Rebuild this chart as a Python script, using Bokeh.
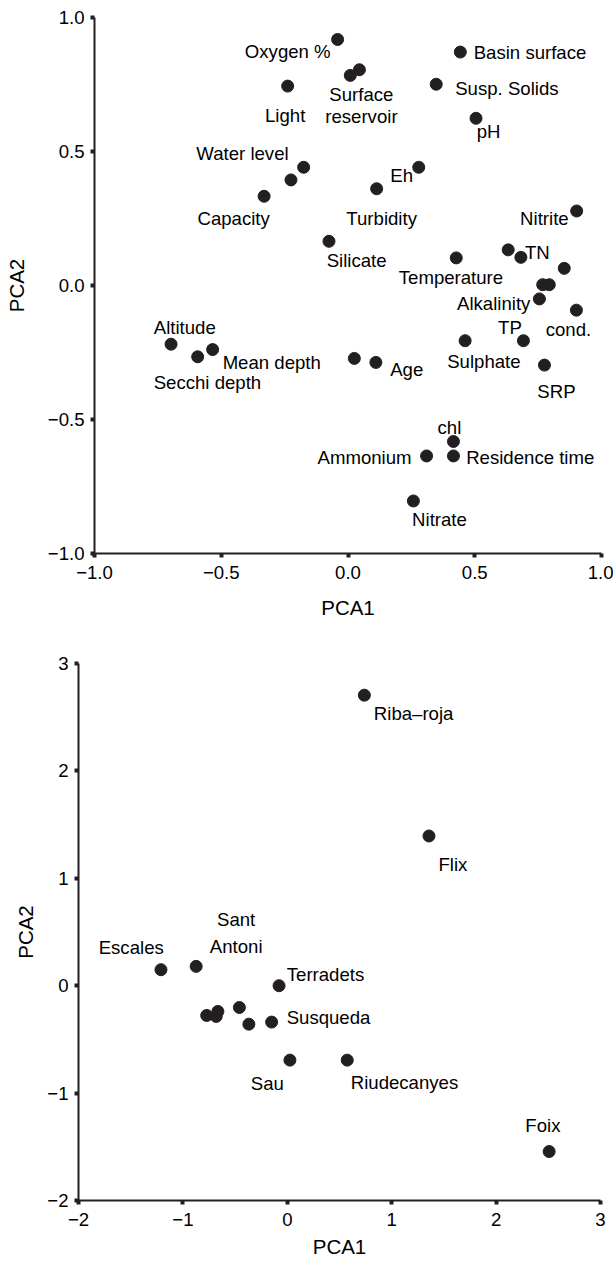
from bokeh.plotting import figure
from bokeh.models import FixedTicker, ColumnDataSource, Range1d
from bokeh.core.properties import value
from bokeh.embed import file_html
from bokeh.resources import INLINE

# ---------------- data: variables (top panel) ----------------
var_names = ["Oxygen %", "", "Surface reservoir", "Light", "Water level", "", "Capacity",
             "Silicate", "Turbidity", "Basin surface", "Susp. Solids", "pH", "Eh", "Nitrite",
             "", "TN", "Temperature", "", "", "", "Alkalinity", "cond.", "TP", "Sulphate",
             "SRP", "", "Age", "Altitude", "Secchi depth", "Mean depth", "chl",
             "Residence time", "Ammonium", "Nitrate"]
var_pca1 = [-0.041, 0.009, 0.045, -0.238, -0.175, -0.225, -0.331,
            -0.075, 0.113, 0.443, 0.348, 0.505, 0.279, 0.902,
            0.632, 0.682, 0.427, 0.853, 0.768, 0.794, 0.755, 0.901, 0.692, 0.462,
            0.775, 0.025, 0.110, -0.698, -0.593, -0.534, 0.416,
            0.416, 0.310, 0.258]
var_pca2 = [0.918, 0.784, 0.805, 0.744, 0.441, 0.394, 0.333,
            0.165, 0.361, 0.871, 0.751, 0.624, 0.441, 0.278,
            0.133, 0.105, 0.103, 0.064, 0.003, 0.003, -0.050, -0.092, -0.206, -0.206,
            -0.297, -0.272, -0.287, -0.219, -0.266, -0.239, -0.582,
            -0.636, -0.636, -0.804]
top_ticks = [-1.0, -0.5, 0.0, 0.5, 1.0]

# ---------------- data: reservoirs (bottom panel) ----------------
lake_names = ["Escales", "Sant Antoni", "Terradets", "", "", "", "", "", "Susqueda",
              "Sau", "Riudecanyes", "Foix", "Riba\u2013roja", "Flix"]
lake_pca1 = [-1.21, -0.873, -0.079, -0.772, -0.665, -0.681, -0.459, -0.368, -0.150,
             0.025, 0.574, 2.508, 0.738, 1.357]
lake_pca2 = [0.149, 0.180, 0.000, -0.277, -0.240, -0.286, -0.203, -0.358, -0.339,
             -0.693, -0.693, -1.544, 2.705, 1.394]
bottom_ticks = [-2, -1, 0, 1, 2, 3]

# ---------------- label layout (screen-pixel offsets from the point) ----------------
top_label_layout = [
    ("Oxygen %", "Oxygen %", -7, 12, "right"),
    ("Surface", "Surface reservoir", 2, 25, "center"),
    ("reservoir", "Surface reservoir", 2, 47, "center"),
    ("Light", "Light", -2.5, 29, "center"),
    ("Water level", "Water level", -15, -13.4, "right"),
    ("Capacity", "Capacity", 5.7, 21.8, "right"),
    ("Turbidity", "Turbidity", 5, 30, "center"),
    ("Silicate", "Silicate", -2.3, 19.6, "left"),
    ("Basin surface", "Basin surface", 13.4, 0.8, "left"),
    ("Susp. Solids", "Susp. Solids", 19, 4.6, "left"),
    ("pH", "pH", 0.7, 13.6, "left"),
    ("Eh", "Eh", -5.7, 8.3, "right"),
    ("Nitrite", "Nitrite", -8, 8, "right"),
    ("TN", "TN", 4, -5, "left"),
    ("Temperature", "Temperature", -5.3, 20, "center"),
    ("Alkalinity", "Alkalinity", -9, 5, "right"),
    ("TP", "TP", -1.6, -13.7, "right"),
    ("cond.", "cond.", -8, 19.7, "center"),
    ("Sulphate", "Sulphate", 18.8, 20.7, "center"),
    ("SRP", "SRP", 12, 26, "center"),
    ("Age", "Age", 14.3, 6.6, "left"),
    ("Altitude", "Altitude", -17.3, -17, "left"),
    ("Mean depth", "Mean depth", 10, 13, "left"),
    ("Secchi depth", "Secchi depth", -44, 26.2, "left"),
    ("chl", "chl", -4, -14.4, "center"),
    ("Ammonium", "Ammonium", -15, 1.3, "right"),
    ("Residence time", "Residence time", 12.7, 1.3, "left"),
    ("Nitrate", "Nitrate", -1.3, 19, "left"),
]
bottom_label_layout = [
    ("Escales", "Escales", 2.8, -22.6, "right"),
    ("Sant", "Sant Antoni", 40, -46.7, "center"),
    ("Antoni", "Sant Antoni", 40, -19.6, "center"),
    ("Terradets", "Terradets", 7.7, -11, "left"),
    ("Susqueda", "Susqueda", 15, -4.5, "left"),
    ("Sau", "Sau", -6, 23.8, "right"),
    ("Riudecanyes", "Riudecanyes", 3.5, 22.6, "left"),
    ("Foix", "Foix", -6.2, -26.3, "center"),
    ("Riba\u2013roja", "Riba\u2013roja", 9.5, 18.2, "left"),
    ("Flix", "Flix", 9.5, 28.3, "left"),
]

INK = "#231f20"
FONT = "Liberation Sans"
LABEL_SIZE = "18.6px"


def fmt(t, dec):
    s = f"{abs(t):.{dec}f}"
    return ("\u2212" + s) if t < 0 else s


def style_axes(p, ticks, dec, xlab_standoff, ylab_standoff):
    for ax in (p.xaxis[0], p.yaxis[0]):
        ax.ticker = FixedTicker(ticks=ticks)
        ax.major_label_overrides = {t: fmt(t, dec) for t in ticks}
        ax.axis_line_color = INK
        ax.axis_line_width = 2
        ax.major_tick_line_color = INK
        ax.major_tick_line_width = 4
        ax.major_tick_out = 4
        ax.major_tick_in = 0
        ax.minor_tick_out = 0
        ax.minor_tick_in = 0
        ax.major_label_text_font = FONT
        ax.major_label_text_font_size = LABEL_SIZE
        ax.major_label_text_color = "black"
        ax.major_label_standoff = 6
        ax.axis_label_text_font = FONT
        ax.axis_label_text_font_size = "20.5px"
        ax.axis_label_text_font_style = "normal"
        ax.axis_label_text_color = "black"
    p.xaxis.major_label_standoff = 8
    p.xaxis.axis_label_standoff = xlab_standoff
    p.yaxis.axis_label_standoff = ylab_standoff
    p.xgrid.visible = False
    p.ygrid.visible = False
    p.outline_line_color = None


def add_labels(p, names, xs, ys, layout):
    idx = {n: i for i, n in enumerate(names) if n}
    for align in ("left", "center", "right"):
        rows = [r for r in layout if r[4] == align]
        if not rows:
            continue
        src = ColumnDataSource(dict(
            x=[xs[idx[r[1]]] for r in rows],
            y=[ys[idx[r[1]]] for r in rows],
            t=[r[0] for r in rows],
            dx=[r[2] for r in rows],
            dy=[r[3] for r in rows],
        ))
        p.text(x="x", y="y", text="t", x_offset="dx", y_offset="dy", source=src,
               text_align=align, text_baseline="middle", text_color="black",
               text_font=value(FONT), text_font_size=LABEL_SIZE)


# ---------------- top panel ----------------
p1 = figure(frame_width=507, frame_height=536, x_range=Range1d(-1, 1), y_range=Range1d(-1, 1),
            output_backend="svg", toolbar_location=None,
            min_border_left=94, min_border_right=12, min_border_top=17, min_border_bottom=77,
            x_axis_label="PCA1", y_axis_label="PCA2")
style_axes(p1, top_ticks, 1, 14, 17)
p1.scatter(var_pca1, var_pca2, size=12, color=INK)
add_labels(p1, var_names, var_pca1, var_pca2, top_label_layout)

# ---------------- bottom panel ----------------
p2 = figure(frame_width=522, frame_height=537, x_range=Range1d(-2, 3), y_range=Range1d(-2, 3),
            output_backend="svg", toolbar_location=None,
            min_border_left=78, min_border_right=13, min_border_top=33, min_border_bottom=63,
            x_axis_label="PCA1", y_axis_label="PCA2")
style_axes(p2, bottom_ticks, 0, 6, 7)
p2.scatter(lake_pca1, lake_pca2, size=12, color=INK)
add_labels(p2, lake_names, lake_pca1, lake_pca2, bottom_label_layout)

# two independent roots stacked vertically (no frame alignment between them)
open("out.html", "w").write(file_html([p1, p2], INLINE))
